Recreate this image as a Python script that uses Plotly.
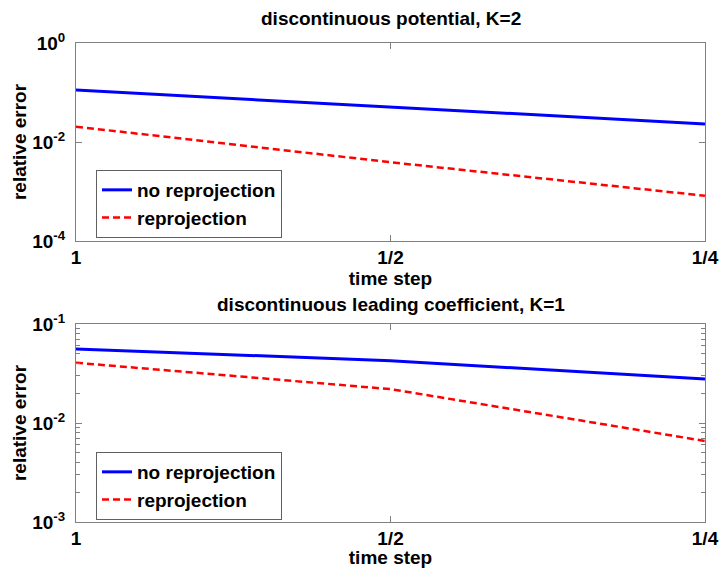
import plotly.graph_objects as go

# data
time_step = [1.0, 0.5, 0.25]
xtick_vals = [1.0, 0.5, 0.25]
xtick_text = ["1", "1/2", "1/4"]

top_no_reproj = [0.112, 0.0516, 0.0231]
top_reproj = [0.0204, 0.0039, 0.00082]
bot_no_reproj = [0.0559, 0.0426, 0.0278]
bot_reproj = [0.0406, 0.0220, 0.00658]

top_ytick_vals = [1e0, 1e-2, 1e-4]
top_ytick_text = ["10<sup>0</sup>", "10<sup>-2</sup>", "10<sup>-4</sup>"]
bot_ytick_vals = [1e-1, 1e-2, 1e-3]
bot_ytick_text = ["10<sup>-1</sup>", "10<sup>-2</sup>", "10<sup>-3</sup>"]
bot_minor_vals = [m * 10.0 ** e for e in (-3, -2) for m in range(2, 10)]

titles = ["discontinuous potential, K=2", "discontinuous leading coefficient, K=1"]
series_names = ["no reprojection", "reprojection"]

FONT = "Liberation Sans"
FS = 19
AXC = "#808080"

def bfont(size=FS):
    return dict(family=FONT, size=size, color="black", weight="bold")

fig = go.Figure()
blue = dict(color="#0000FF", width=3)
red = dict(color="#FF0000", width=2.5, dash="7px,4px")

fig.add_trace(go.Scatter(x=time_step, y=top_no_reproj, mode="lines", line=blue,
                         name=series_names[0], xaxis="x", yaxis="y", legend="legend"))
fig.add_trace(go.Scatter(x=time_step, y=top_reproj, mode="lines", line=red,
                         name=series_names[1], xaxis="x", yaxis="y", legend="legend"))
fig.add_trace(go.Scatter(x=time_step, y=bot_no_reproj, mode="lines", line=blue,
                         name=series_names[0], xaxis="x2", yaxis="y2", legend="legend2"))
fig.add_trace(go.Scatter(x=time_step, y=bot_reproj, mode="lines", line=red,
                         name=series_names[1], xaxis="x2", yaxis="y2", legend="legend2"))

W, H = 719, 568
L, R, T, B = 76, 14, 43, 46
ph = H - T - B
pw = W - L - R
top_dom = [(522 - 241) / ph, 1.0]
bot_dom = [0.0, (522 - 324) / ph]

def xaxis(anchor):
    return dict(type="log", range=[0, -0.60206], tickvals=xtick_vals, ticktext=xtick_text,
                ticks="inside", ticklen=6, tickcolor=AXC, showline=True, linecolor=AXC,
                linewidth=1, mirror="ticks", showgrid=False, zeroline=False,
                tickfont=bfont(), anchor=anchor, automargin=False, ticklabelstandoff=-1,
                title=dict(text="time step", font=bfont(), standoff=0))

def yaxis(anchor, dom, rng, tv, tt, minor=None):
    d = dict(type="log", range=rng, domain=dom, tickvals=tv, ticktext=tt,
             ticks="inside", ticklen=6, tickcolor=AXC, showline=True, linecolor=AXC,
             linewidth=1, mirror="ticks", showgrid=False, zeroline=False,
             tickfont=bfont(), anchor=anchor, automargin=False, ticklabelstandoff=6,
             title=dict(text="relative error", font=bfont(), standoff=0))
    if minor:
        d["minor"] = dict(tickvals=minor, ticks="inside", ticklen=4, tickcolor=AXC, showgrid=False)
    return d

def legend(top_px):
    return dict(x=(96 - L) / pw, y=(H - B - top_px) / ph, xanchor="left", yanchor="top",
                bordercolor="#606060", borderwidth=1, bgcolor="white", font=bfont(),
                entrywidth=160, entrywidthmode="pixels")

fig.update_layout(
    width=W, height=H,
    margin=dict(l=L, r=R, t=T, b=B),
    paper_bgcolor="white", plot_bgcolor="white",
    font=bfont(),
    xaxis=xaxis("y"),
    xaxis2=xaxis("y2"),
    yaxis=yaxis("x", top_dom, [-4, 0], top_ytick_vals, top_ytick_text),
    yaxis2=yaxis("x2", bot_dom, [-3, -1], bot_ytick_vals, bot_ytick_text, bot_minor_vals),
    legend=legend(170),
    legend2=legend(452),
    annotations=[
        dict(text=titles[0], x=0.5, xref="paper", y=(H - B - 19) / ph, yref="paper",
             xanchor="center", yanchor="middle", showarrow=False, font=bfont()),
        dict(text=titles[1], x=0.5, xref="paper", y=(H - B - 304) / ph, yref="paper",
             xanchor="center", yanchor="middle", showarrow=False, font=bfont()),
    ],
)

fig.write_html("out.html", config={"displayModeBar": False},
               post_script="document.body.style.margin='0';")
